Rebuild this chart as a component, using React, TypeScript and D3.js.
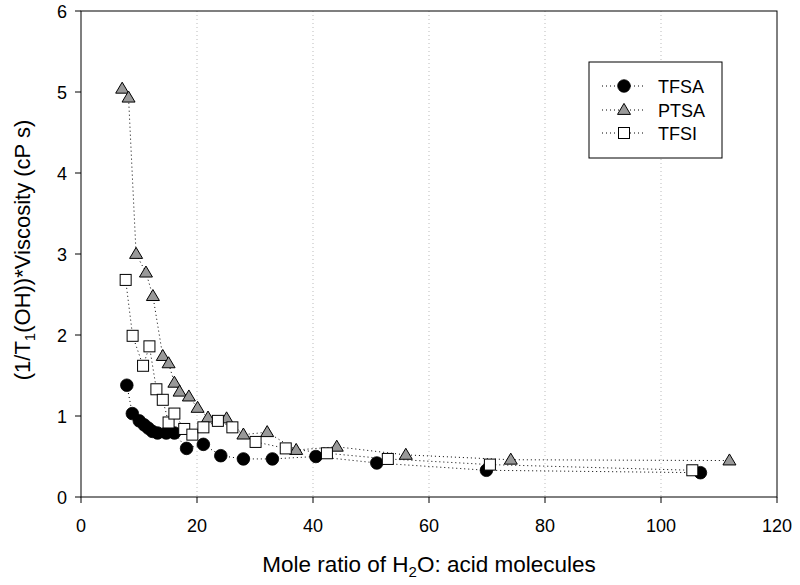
import React from "react";
import * as d3 from "d3";

const tfsaX = [7.9, 8.85, 10.05, 10.9, 11.6, 12.3, 13.2, 14.7, 16.1, 18.2, 21.1, 24.1, 28.0, 33.0, 40.5, 51.0, 69.9, 106.8];
const tfsaY = [1.38, 1.03, 0.94, 0.89, 0.85, 0.81, 0.79, 0.79, 0.79, 0.60, 0.65, 0.51, 0.47, 0.47, 0.50, 0.42, 0.33, 0.30];

const ptsaX = [7.1, 8.2, 9.5, 11.2, 12.4, 14.1, 15.1, 16.1, 17.0, 18.6, 20.1, 21.9, 25.1, 28.0, 32.1, 37.1, 44.1, 56.0, 74.1, 111.8];
const ptsaY = [5.04, 4.93, 3.0, 2.77, 2.48, 1.74, 1.65, 1.41, 1.30, 1.24, 1.10, 0.98, 0.97, 0.77, 0.80, 0.58, 0.62, 0.52, 0.46, 0.45];

const tfsiX = [7.7, 8.9, 10.7, 11.8, 13.0, 14.1, 15.1, 16.1, 17.8, 19.2, 21.1, 23.6, 26.1, 30.1, 35.3, 42.4, 52.9, 70.5, 105.4];
const tfsiY = [2.68, 1.99, 1.62, 1.86, 1.33, 1.20, 0.92, 1.03, 0.84, 0.77, 0.86, 0.94, 0.86, 0.68, 0.60, 0.54, 0.47, 0.40, 0.33];

const xTicks = [0, 20, 40, 60, 80, 100, 120];
const yTicks = [0, 1, 2, 3, 4, 5, 6];
const gridX = [20, 40, 60, 80, 100];
const seriesNames = ["TFSA", "PTSA", "TFSI"];

const FONT = "'Liberation Sans', Arial, Helvetica, sans-serif";

type Kind = "circle" | "triangle" | "square";

function Marker({ kind, x, y }: { kind: Kind; x: number; y: number }) {
  if (kind === "circle") return <circle cx={x} cy={y} r={6.3} fill="#000" stroke="#000" strokeWidth={0.8} />;
  if (kind === "square")
    return <rect x={x - 5.5} y={y - 5.5} width={11} height={11} fill="#fff" stroke="#000" strokeWidth={1} />;
  const hw = 6.5, h = 11;
  const p = d3.path();
  p.moveTo(x, y - h * 0.6);
  p.lineTo(x + hw, y + h * 0.4);
  p.lineTo(x - hw, y + h * 0.4);
  p.closePath();
  return <path d={p.toString()} fill="#999" stroke="#000" strokeWidth={1} strokeLinejoin="miter" />;
}

export default function App() {
  const W = 800, H = 585;
  const x = d3.scaleLinear().domain([0, 120]).range([81, 777]);
  const y = d3.scaleLinear().domain([0, 6]).range([497, 11]);
  const line = d3.line<[number, number]>().x((d) => x(d[0])).y((d) => y(d[1]));

  const series: { name: string; kind: Kind; xs: number[]; ys: number[] }[] = [
    { name: seriesNames[0], kind: "circle", xs: tfsaX, ys: tfsaY },
    { name: seriesNames[1], kind: "triangle", xs: ptsaX, ys: ptsaY },
    { name: seriesNames[2], kind: "square", xs: tfsiX, ys: tfsiY },
  ];

  const legendRows = [86, 110, 133];

  return (
    <svg width={W} height={H} style={{ position: "absolute", left: 0, top: 0, background: "#fff" }}>
      {gridX.map((g) => (
        <line key={g} x1={x(g)} x2={x(g)} y1={y(6)} y2={y(0)} stroke="#bbb" strokeWidth={1} strokeDasharray="1,3" />
      ))}
      {series.map((s) => (
        <path
          key={s.name + "l"}
          d={line(s.xs.map((v, i) => [v, s.ys[i]] as [number, number])) || ""}
          fill="none"
          stroke="#000"
          strokeWidth={1}
          strokeDasharray="1,3"
        />
      ))}
      {series.map((s) =>
        s.xs.map((v, i) => <Marker key={s.name + i} kind={s.kind} x={x(v)} y={y(s.ys[i])} />)
      )}
      <rect x={x(0)} y={y(6)} width={x(120) - x(0)} height={y(0) - y(6)} fill="none" stroke="#000" strokeWidth={1} />
      {xTicks.map((t) => (
        <g key={"x" + t}>
          <line x1={x(t)} x2={x(t)} y1={y(0)} y2={y(0) + 6} stroke="#000" />
          <text x={x(t)} y={532} textAnchor="middle" fontFamily={FONT} fontSize={18}>
            {t}
          </text>
        </g>
      ))}
      {yTicks.map((t) => (
        <g key={"y" + t}>
          <line x1={x(0) - 6} x2={x(0)} y1={y(t)} y2={y(t)} stroke="#000" />
          <text x={67} y={y(t) + 6.5} textAnchor="end" fontFamily={FONT} fontSize={18}>
            {t}
          </text>
        </g>
      ))}
      <text x={429} y={572} textAnchor="middle" fontFamily={FONT} fontSize={22.5}>
        Mole ratio of H<tspan dy={5} fontSize={15}>2</tspan>
        <tspan dy={-5}>O: acid molecules</tspan>
      </text>
      <text transform="translate(30,250) rotate(-90)" textAnchor="middle" fontFamily={FONT} fontSize={22}>
        (1/T<tspan dy={5} fontSize={15}>1</tspan>
        <tspan dy={-5}>(OH))*Viscosity (cP s)</tspan>
      </text>
      <rect x={589} y={62} width={133} height={96} fill="#fff" stroke="#000" strokeWidth={1} />
      {series.map((s, i) => (
        <g key={s.name + "lg"}>
          <line x1={602} x2={644} y1={legendRows[i]} y2={legendRows[i]} stroke="#000" strokeDasharray="1,3" />
          <Marker kind={s.kind} x={624} y={legendRows[i]} />
          <text x={658} y={legendRows[i] + 6.5} fontFamily={FONT} fontSize={18}>
            {s.name}
          </text>
        </g>
      ))}
    </svg>
  );
}
